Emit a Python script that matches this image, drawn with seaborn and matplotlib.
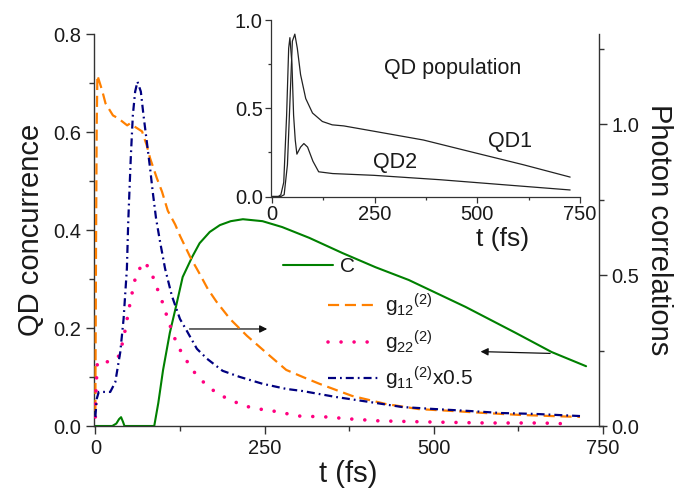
import matplotlib
matplotlib.use("Agg")
import matplotlib.pyplot as plt
import seaborn as sns
import pandas as pd
from matplotlib.ticker import MultipleLocator

sns.set_theme(style="ticks")
plt.rcParams['font.family'] = ['Liberation Sans', 'DejaVu Sans']
plt.rcParams['mathtext.fontset'] = 'custom'
plt.rcParams['mathtext.rm'] = 'Liberation Sans'
plt.rcParams['mathtext.default'] = 'regular'

# ---------------- data ----------------
# QD concurrence C (left axis)
t_C = [0, 25, 31, 35, 38, 41, 43, 87, 93, 100, 110, 119, 129, 143, 154, 169, 184,
       200, 218, 247, 276, 316, 365, 414, 463, 547, 621, 674, 725]
C = [0, 0, 0.005, 0.014, 0.018, 0.008, 0, 0, 0.047, 0.114, 0.19, 0.243, 0.304, 0.345,
     0.373, 0.396, 0.41, 0.418, 0.422, 0.418, 0.406, 0.384, 0.353, 0.324, 0.298,
     0.243, 0.19, 0.151, 0.122]

# photon correlations (right axis)
t_g12 = [0, 1, 2, 3, 10, 15, 26, 34, 47, 51, 69, 76, 81, 91, 98.5, 107, 118, 125, 140,
         154, 166, 179, 199, 224, 254, 282, 306, 331, 379, 429, 478, 526, 576, 625, 674, 716]
g12 = [0.05, 0.6, 1.0, 1.163, 1.113, 1.07, 1.03, 1.02, 0.997, 1.003, 0.977, 0.930, 0.887,
       0.821, 0.777, 0.714, 0.668, 0.631, 0.561, 0.505, 0.455, 0.412, 0.355, 0.299, 0.24,
       0.186, 0.163, 0.140, 0.100, 0.073, 0.056, 0.050, 0.043, 0.037, 0.033, 0.030]

t_g22 = [0, 1, 3, 19, 30, 37, 41, 45.6, 48.5, 53, 56, 62, 73.5, 85, 92.6, 100, 106, 113,
         121, 132, 146, 162, 181, 203, 221, 243, 262, 301, 341, 379, 419, 500, 578, 659, 700]
g22 = [0.03, 0.12, 0.213, 0.213, 0.22, 0.239, 0.289, 0.332, 0.379, 0.422, 0.465, 0.512,
       0.545, 0.495, 0.449, 0.405, 0.362, 0.316, 0.269, 0.226, 0.179, 0.14, 0.106, 0.083,
       0.066, 0.056, 0.05, 0.033, 0.03, 0.023, 0.017, 0.013, 0.01, 0.01, 0.007]

t_g11 = [0, 2, 5, 22, 29.4, 36.8, 41.7, 46.6, 48.5, 50.5, 52.5, 55.4, 58.8, 62.2, 67.2,
         71.1, 76.0, 80.9, 84.8, 89.7, 95.6, 103, 113, 125, 135, 150, 165, 188, 213, 247,
         282, 306, 356, 404, 453, 503, 551, 600, 650, 716]
g11_half = [0.03, 0.09, 0.113, 0.113, 0.145, 0.245, 0.355, 0.522, 0.672, 0.787, 0.898,
            1.031, 1.109, 1.142, 1.109, 1.031, 0.943, 0.854, 0.776, 0.688, 0.611, 0.522,
            0.432, 0.355, 0.316, 0.256, 0.223, 0.183, 0.163, 0.14, 0.123, 0.116, 0.096,
            0.080, 0.063, 0.056, 0.050, 0.043, 0.040, 0.033]

# inset: QD populations
t_QD1 = [0, 22, 30, 38, 46, 50, 56, 62, 70, 82.5, 99, 123, 147, 175, 248, 369, 490, 612, 726]
QD1 = [0, 0, 0.01, 0.18, 0.65, 0.88, 0.92, 0.84, 0.69, 0.555, 0.473, 0.425, 0.406, 0.40,
       0.37, 0.32, 0.25, 0.18, 0.11]
t_QD2 = [0, 16, 22, 29, 36, 41, 44, 49, 53, 57, 61, 70, 78, 87, 100, 114, 148, 248, 410, 573, 726]
QD2 = [0, 0, 0.01, 0.08, 0.46, 0.84, 0.90, 0.75, 0.46, 0.32, 0.24, 0.28, 0.30, 0.28, 0.20,
       0.14, 0.13, 0.12, 0.095, 0.065, 0.037]

x_ticks = [0, 250, 500, 750]
left_ticks = [0.0, 0.2, 0.4, 0.6, 0.8]
right_ticks = [0.0, 0.5, 1.0]
inset_yticks = [0.0, 0.5, 1.0]

col_C = '#008000'
col_g12 = '#FF8000'
col_g22 = '#FF0080'
col_g11 = '#000080'
axcol = '#333333'
txtcol = '#1a1a1a'

W, H = 688, 504
fig = plt.figure(figsize=(W / 100, H / 100), dpi=100)
ax = fig.add_axes([94 / W, 1 - 426 / H, 509 / W, 392 / H])
ax2 = ax.twinx()

sns.lineplot(data=pd.DataFrame({'t': t_C, 'v': C}), x='t', y='v', ax=ax,
             color=col_C, lw=1.5, estimator=None, sort=False)
lC = ax.get_lines()[-1]

sns.lineplot(data=pd.DataFrame({'t': t_g12, 'v': g12}), x='t', y='v', ax=ax2,
             color=col_g12, lw=1.6, estimator=None, sort=False)
l12 = ax2.get_lines()[-1]
l12.set_linestyle((0, (5, 2.6)))
sns.lineplot(data=pd.DataFrame({'t': t_g22, 'v': g22}), x='t', y='v', ax=ax2,
             color=col_g22, lw=2.6, estimator=None, sort=False)
l22 = ax2.get_lines()[-1]
l22.set_linestyle((0, (0.01, 3.6)))
l22.set_dash_capstyle('round')
sns.lineplot(data=pd.DataFrame({'t': t_g11, 'v': g11_half}), x='t', y='v', ax=ax2,
             color=col_g11, lw=1.6, estimator=None, sort=False)
l11 = ax2.get_lines()[-1]
l11.set_linestyle((0, (3.6, 1.8, 0.8, 1.8)))

ax.set_xlim(-2, 750)
ax.set_ylim(0, 0.8)
ax2.set_ylim(0, 1.3)

ax.set_xticks(x_ticks)
ax.xaxis.set_minor_locator(MultipleLocator(125))
ax.set_yticks(left_ticks)
ax.set_yticklabels([f'{v:.1f}' for v in left_ticks])
ax.yaxis.set_minor_locator(MultipleLocator(0.1))
ax2.set_yticks(right_ticks)
ax2.set_yticklabels([f'{v:.1f}' for v in right_ticks])
ax2.yaxis.set_minor_locator(MultipleLocator(0.25))

for a in (ax, ax2):
    a.tick_params(which='major', direction='out', length=6, width=1, colors=axcol,
                  labelsize=14.5, labelcolor=txtcol, pad=3)
    a.tick_params(which='minor', direction='out', length=3.5, width=1, colors=axcol)
    for s in a.spines.values():
        s.set_color(axcol)
        s.set_linewidth(1)

ax.spines['top'].set_visible(False)
ax.spines['right'].set_visible(False)
ax2.spines['top'].set_visible(False)
ax2.spines['left'].set_visible(False)
ax2.spines['bottom'].set_visible(False)
ax2.spines['right'].set_position(('axes', 505 / 509))

ax.set_xlabel('t (fs)', fontsize=21, color=txtcol, labelpad=2)
ax.set_ylabel('QD concurrence', fontsize=21, color=txtcol, labelpad=6)
ax2.set_ylabel('Photon correlations', fontsize=21, color=txtcol, rotation=270,
               va='bottom', labelpad=4)

# arrows indicating the axis of each curve
ax.annotate('', xy=(258, 0.198), xytext=(135, 0.198),
            arrowprops=dict(arrowstyle='-|>', color='#111111', lw=0.9, mutation_scale=11))
ax.annotate('', xy=(565, 0.152), xytext=(676, 0.148),
            arrowprops=dict(arrowstyle='-|>', color='#111111', lw=0.9, mutation_scale=11))

# legends
leg1 = ax2.legend(handles=[lC], labels=['C'], loc='center left',
                  bbox_to_anchor=(283 / W, 1 - 267 / H), bbox_transform=fig.transFigure,
                  frameon=False, fontsize=15, handlelength=2.4, handletextpad=0.33,
                  borderpad=0, borderaxespad=0)
for t in leg1.get_texts():
    t.set_color(txtcol)
ax2.add_artist(leg1)
leg2 = ax2.legend(handles=[l12, l22, l11],
                  labels=[r'g$_{12}{}^{(2)}$', r'g$_{22}{}^{(2)}$', r'g$_{11}{}^{(2)}$x0.5'],
                  loc='center left', bbox_to_anchor=(328 / W, 1 - 342 / H),
                  bbox_transform=fig.transFigure, frameon=False, fontsize=15,
                  handlelength=2.4, handletextpad=0.33, borderpad=0, borderaxespad=0,
                  labelspacing=0.45)
for t in leg2.get_texts():
    t.set_color(txtcol)

# inset
axin = fig.add_axes([271 / W, 1 - 196.5 / H, 309 / W, 176.5 / H])
axin.set_facecolor('none')
sns.lineplot(data=pd.DataFrame({'t': t_QD1, 'v': QD1}), x='t', y='v', ax=axin,
             color='#222222', lw=0.9, estimator=None, sort=False)
sns.lineplot(data=pd.DataFrame({'t': t_QD2, 'v': QD2}), x='t', y='v', ax=axin,
             color='#222222', lw=0.9, estimator=None, sort=False)
axin.set_xlim(-2, 750)
axin.set_ylim(0, 1.0)
axin.set_xticks(x_ticks)
axin.xaxis.set_minor_locator(MultipleLocator(125))
axin.set_yticks(inset_yticks)
axin.set_yticklabels([f'{v:.1f}' for v in inset_yticks])
axin.yaxis.set_minor_locator(MultipleLocator(0.25))
axin.tick_params(which='major', direction='out', length=4, width=0.9, colors=axcol,
                 labelsize=14.5, labelcolor=txtcol, pad=2)
axin.tick_params(which='minor', direction='out', length=2.5, width=0.9, colors=axcol)
axin.spines['top'].set_visible(False)
axin.spines['right'].set_visible(False)
for s in ('left', 'bottom'):
    axin.spines[s].set_color(axcol)
    axin.spines[s].set_linewidth(0.9)
axin.set_ylabel('')
axin.set_xlabel('t (fs)', fontsize=19, color=txtcol)
axin.xaxis.set_label_coords(0.75, -0.17)
axin.text(439, 0.725, 'QD population', ha='center', va='center', fontsize=15.5, color=txtcol)
axin.text(580, 0.314, 'QD1', ha='center', va='center', fontsize=15.5, color=txtcol)
axin.text(300, 0.193, 'QD2', ha='center', va='center', fontsize=15.5, color=txtcol)

fig.savefig('out.png', dpi=100)
